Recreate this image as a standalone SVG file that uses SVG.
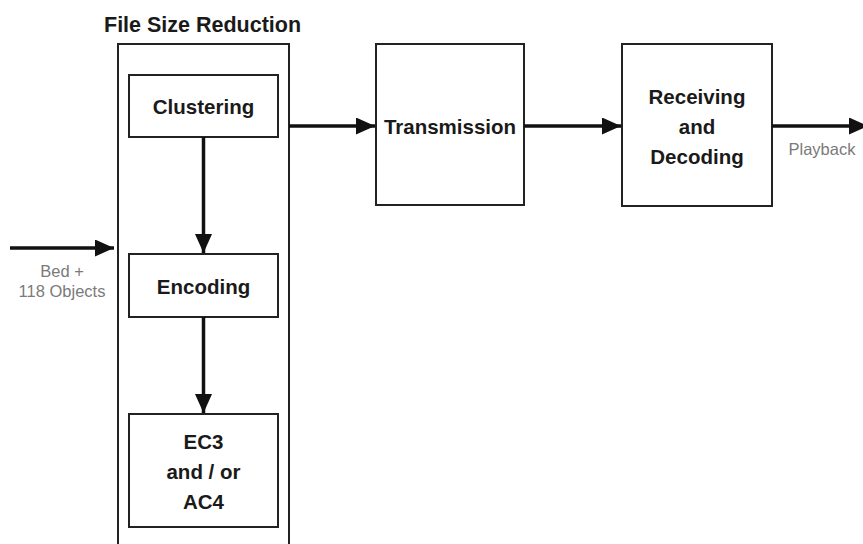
<svg xmlns="http://www.w3.org/2000/svg" width="863" height="544" viewBox="0 0 863 544">
  <defs>
    <marker id="arrow" viewBox="0 0 19 17" refX="19" refY="8.5" markerWidth="19" markerHeight="17" markerUnits="userSpaceOnUse" orient="auto">
      <path d="M0,0 L19,8.5 L0,17 Z" fill="#111"/>
    </marker>
    <style>
      .box { fill: #fff; stroke: #222; stroke-width: 2; }
      .group { fill: none; stroke: #222; stroke-width: 2; }
      .label { font-family: "Liberation Sans", Arial, Helvetica, sans-serif; font-size: 20.5px; font-weight: bold; fill: #1a1a1a; text-anchor: middle; }
      .title { font-family: "Liberation Sans", Arial, Helvetica, sans-serif; font-size: 21.5px; font-weight: bold; fill: #1a1a1a; }
      .note { font-family: "Liberation Sans", Arial, Helvetica, sans-serif; font-size: 16.5px; fill: #7a7a7a; text-anchor: middle; }
      .edge { fill: none; stroke: #111; stroke-width: 3.5; marker-end: url(#arrow); }
    </style>
  </defs>
  <rect width="863" height="544" fill="#fff"/>

  <!-- file size reduction stage -->
  <g id="file-size-reduction">
    <rect class="group" x="118" y="44" width="171" height="520"/>
    <text class="title" x="104" y="32">File Size Reduction</text>
  </g>

  <g id="clustering">
    <rect class="box" x="129" y="75" width="149" height="62"/>
    <text class="label" x="203.5" y="114">Clustering</text>
  </g>

  <g id="encoding">
    <rect class="box" x="129" y="254" width="149" height="63"/>
    <text class="label" x="203.5" y="294">Encoding</text>
  </g>

  <g id="ec3-ac4">
    <rect class="box" x="129" y="414" width="149" height="113"/>
    <text class="label" x="203.5" y="449">EC3</text>
    <text class="label" x="203.5" y="479">and / or</text>
    <text class="label" x="203.5" y="509">AC4</text>
  </g>

  <g id="transmission">
    <rect class="box" x="376" y="44" width="148" height="161"/>
    <text class="label" x="450" y="134">Transmission</text>
  </g>

  <g id="receiving-decoding">
    <rect class="box" x="622" y="44" width="150" height="162"/>
    <text class="label" x="697" y="104">Receiving</text>
    <text class="label" x="697" y="134">and</text>
    <text class="label" x="697" y="164">Decoding</text>
  </g>

  <!-- connectors -->
  <g id="connectors">
    <line class="edge" x1="10" y1="248" x2="114" y2="248"/>
    <line class="edge" x1="203.5" y1="137" x2="203.5" y2="253"/>
    <line class="edge" x1="203.5" y1="317" x2="203.5" y2="413"/>
    <line class="edge" x1="289" y1="126" x2="375" y2="126"/>
    <line class="edge" x1="524" y1="126" x2="621" y2="126"/>
    <line class="edge" x1="772" y1="126" x2="868" y2="126"/>
    <text class="note" x="62" y="277">Bed +</text>
    <text class="note" x="62" y="297">118 Objects</text>
    <text class="note" x="822" y="155">Playback</text>
  </g>
</svg>
